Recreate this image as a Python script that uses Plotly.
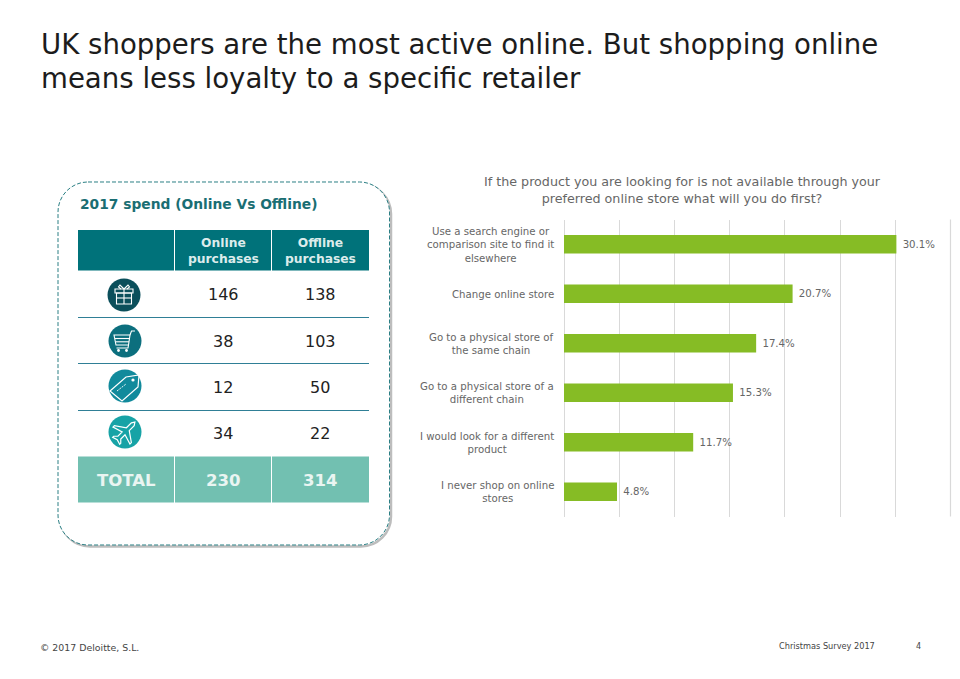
import math
import plotly.graph_objects as go

W, H = 960, 679

# ---- chart data
categories = [
    "Use a search engine or<br>comparison site to find it<br>elsewhere",
    "Change online store",
    "Go to a physical store of<br>the same chain",
    "Go to a physical store of a<br>different chain",
    "I would look for a different<br>product",
    "I never shop on online<br>stores",
]
shares = [30.1, 20.7, 17.4, 15.3, 11.7, 4.8]

# ---- table data
column_headers = ["Online<br>purchases", "Offline<br>purchases"]
online_values = [146, 38, 12, 34]
offline_values = [138, 103, 50, 22]
total_label = "TOTAL"
online_total = 230
offline_total = 314

# ---- text
title_lines = ["UK shoppers are the most active online. But shopping online",
               "means less loyalty to a specific retailer"]
chart_title = "If the product you are looking for is not available through your<br>preferred online store what will you do first?"
table_title = "2017 spend (Online Vs Offline)"
footer_left = "© 2017 Deloitte, S.L."
footer_mid = "Christmas Survey 2017"
footer_page = "4"

FONT = "DejaVu Sans"
TEAL = "#00727a"
TOTAL_C = "#72c0b1"
GREY = "#666666"
GRID = "#d9d9d9"


def px(x):
    return x / W


def py(y):
    return 1 - y / H


def path(points, close=False):
    s = "M " + " L ".join(f"{px(x):.5f},{py(y):.5f}" for x, y in points)
    return s + (" Z" if close else "")


def rounded(x0, y0, x1, y1, r):
    k = r * 0.45
    c = lambda a, b: f"{px(a):.5f},{py(b):.5f}"
    return (
        f"M {c(x0 + r, y0)} L {c(x1 - r, y0)} C {c(x1 - k, y0)} {c(x1, y0 + k)} {c(x1, y0 + r)} "
        f"L {c(x1, y1 - r)} C {c(x1, y1 - k)} {c(x1 - k, y1)} {c(x1 - r, y1)} "
        f"L {c(x0 + r, y1)} C {c(x0 + k, y1)} {c(x0, y1 - k)} {c(x0, y1 - r)} "
        f"L {c(x0, y0 + r)} C {c(x0, y0 + k)} {c(x0 + k, y0)} {c(x0 + r, y0)} Z"
    )


shapes, notes = [], []


def add_path(d, color="white", width=1.1, fill=None, dash=None):
    line = dict(color=color, width=width)
    if dash:
        line["dash"] = dash
    shapes.append(dict(type="path", xref="paper", yref="paper", path=d, line=line,
                       fillcolor=fill if fill else "rgba(0,0,0,0)", layer="below"))


def rect(x0, y0, x1, y1, fill):
    shapes.append(dict(type="rect", xref="paper", yref="paper", x0=px(x0), x1=px(x1),
                       y0=py(y1), y1=py(y0), fillcolor=fill, line=dict(width=0), layer="below"))


def hline(x0, x1, y, color, width=1):
    shapes.append(dict(type="line", xref="paper", yref="paper", x0=px(x0), x1=px(x1),
                       y0=py(y), y1=py(y), line=dict(color=color, width=width), layer="below"))


def circle(cx, cy, r, fill, color=None, width=0):
    shapes.append(dict(type="circle", xref="paper", yref="paper", x0=px(cx - r), x1=px(cx + r),
                       y0=py(cy + r), y1=py(cy - r), fillcolor=fill,
                       line=dict(color=color or fill, width=width), layer="below"))


def text(x, y, s, size, color="#222222", anchor="center", align=None, bold=False):
    notes.append(dict(xref="paper", yref="paper", x=px(x), y=py(y), text=f"<b>{s}</b>" if bold else s,
                      showarrow=False, xanchor=anchor, yanchor="middle", align=align or anchor,
                      font=dict(family=FONT, size=size, color=color)))


# ---- rounded dashed card with soft shadow
add_path(rounded(60, 184, 391, 546.5, 30), color="#bdbdbd", width=2.5)
add_path(rounded(58, 182, 389.5, 545, 30), color="#2b7f84", width=1, fill="white", dash="4px,2px")

# ---- table
col_x = [(78, 174), (175, 271), (272, 369)]
for a, b in col_x:
    rect(a, 230, b, 270.5, TEAL)
    rect(a, 456.5, b, 502.5, TOTAL_C)
for y in (317.5, 363.5, 410.5):
    hline(78, 369, y, "#2f7f96", 1)

text(78, 204, table_title, 13.8, "#1a6e73", "left", bold=True)
for i, h in enumerate(column_headers):
    text(sum(col_x[i + 1]) / 2, 250.5, h, 12.3, "#dcecec", bold=True)

row_y = [294, 341, 387, 434]
for y, on, off in zip(row_y, online_values, offline_values):
    text(223, y, str(on), 16)
    text(320, y, str(off), 16)
text(126.5, 480, total_label, 16.5, "#eaf5f2", bold=True)
text(223, 480, str(online_total), 16.5, "#eaf5f2", bold=True)
text(320, 480, str(offline_total), 16.5, "#eaf5f2", bold=True)

# ---- icons
icon_x = 124
# gift
cx, cy = icon_x, row_y[0] + 1
circle(cx, cy, 16.5, "#0b4f5b")
add_path(path([(cx + a, cy + b) for a, b in [(-9, -6), (9, -6), (9, -2), (-9, -2)]], True))
add_path(path([(cx + a, cy + b) for a, b in [(-7.5, -2), (7.5, -2), (7.5, 9), (-7.5, 9)]], True))
add_path(path([(cx, cy - 6), (cx, cy + 9)]))
add_path(path([(cx - 7.5, cy + 3), (cx + 7.5, cy + 3)]))
add_path(path([(cx + a, cy + b) for a, b in [(0, -6), (-4, -10), (-5.5, -8), (-3, -6)]]))
add_path(path([(cx + a, cy + b) for a, b in [(0, -6), (4, -10), (5.5, -8), (3, -6)]]))
# cart
cx, cy = icon_x + 1, row_y[1]
circle(cx, cy, 16.5, "#0c6f7e")
add_path(path([(cx + a, cy + b) for a, b in [(-11, -6), (5, -6), (3.5, 4), (-9, 4)]], True))
add_path(path([(cx - 10, cy - 2.5), (cx + 4.5, cy - 2.5)]))
add_path(path([(cx - 9.5, cy + 0.8), (cx + 4, cy + 0.8)]))
add_path(path([(cx + a, cy + b) for a, b in [(3.5, 4), (3, 7), (-8.5, 7)]]))
add_path(path([(cx + a, cy + b) for a, b in [(5, -6), (6.5, -10), (10, -10)]]))
circle(cx - 6.5, cy + 9.5, 1.4, "white")
circle(cx + 1.5, cy + 9.5, 1.4, "white")
# tag
cx, cy = icon_x + 1, row_y[2] - 1
circle(cx, cy, 16.5, "#118a9c")
add_path(path([(cx + a, cy + b) for a, b in [(-15, 5), (1, -9), (14, -11), (13, 1), (-3, 15)]], True), width=1.2)
circle(cx + 8, cy - 6, 1.6, "white")
add_path(path([(cx - 8, cy + 5), (cx + 1, cy - 2)]), dash="2px,1px", width=0.9)
# plane
cx, cy = icon_x + 1, row_y[3] - 2
circle(cx, cy, 16.5, "#17a3a6")
plane = [(0, -14), (2, -11), (2, -4), (12, 3), (12, 5), (2, 2), (2, 8), (5, 11), (5, 12.5), (0, 11),
         (-5, 12.5), (-5, 11), (-2, 8), (-2, 2), (-12, 5), (-12, 3), (-2, -4), (-2, -11)]
c45 = math.cos(math.radians(45))
add_path(path([(cx + (a - b) * c45, cy + (a + b) * c45) for a, b in plane], True), width=1.2)

# ---- page text
text(39, 45, title_lines[0], 27.6, "#1c1c1c", "left")
text(39, 78, title_lines[1], 27.6, "#1c1c1c", "left")
text(682, 189.5, chart_title, 12.7, GREY)
text(38, 647.5, footer_left, 9.4, "#444444", "left")
text(777, 646, footer_mid, 8.2, "#444444", "left")
text(918, 646, footer_page, 8, "#444444")

# ---- category labels, attached to the axis categories
for c in categories:
    notes.append(dict(xref="x", yref="y", x=0, y=c, text=c, showarrow=False, xanchor="right",
                      xshift=-8, yshift=-0.5, align="center", yanchor="middle",
                      font=dict(family=FONT, size=10.2, color=GREY)))

# ---- closing gridline at the end of the value axis
shapes.append(dict(type="line", xref="paper", yref="paper", x0=px(950.5), x1=px(950.5),
                   y0=py(516.5), y1=py(219.5), line=dict(color=GRID, width=1.2), layer="above"))

fig = go.Figure(go.Bar(
    y=categories, x=shares, orientation="h", marker=dict(color="#86bc25", line=dict(width=0)),
    width=0.37, text=[f"\u00a0{v:.1f}%" for v in shares], textposition="outside", cliponaxis=False,
    textfont=dict(family=FONT, size=10.2, color=GREY),
))
fig.update_layout(
    width=W, height=H, margin=dict(l=0, r=0, t=0, b=0), autosize=False,
    paper_bgcolor="white", plot_bgcolor="white", showlegend=False,
    shapes=shapes, annotations=notes,
    xaxis=dict(domain=[px(564), px(950.5)], range=[0, 35], tickvals=[0, 5, 10, 15, 20, 25, 30],
               showticklabels=False, showgrid=True, gridcolor=GRID, gridwidth=1, zeroline=True,
               zerolinecolor=GRID, zerolinewidth=1, ticks=""),
    yaxis=dict(domain=[py(516.5), py(219.5)], autorange="reversed", showticklabels=False,
               showgrid=False, zeroline=False, ticks="", showline=False),
)
fig.write_html("out.html", config=dict(displayModeBar=False),
               post_script="document.body.style.margin='0';document.documentElement.style.overflow='hidden';")
